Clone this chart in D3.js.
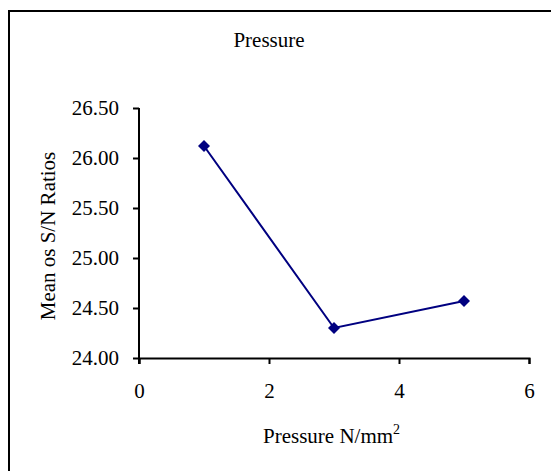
<!DOCTYPE html>
<html>
<head>
<meta charset="utf-8">
<script src="https://cdn.jsdelivr.net/npm/d3@7"></script>
<style>
  body { margin: 0; background: #fff; }
  svg text { font-family: "Times New Roman", "Liberation Serif", serif; font-size: 21px; fill: #000; }
</style>
</head>
<body>
<div id="chart"></div>
<script>
var pressure = [1, 3, 5];
var snMeans = [26.12, 24.30, 24.57];
var xTicks = [0, 2, 4, 6];
var yTicks = [24.0, 24.5, 25.0, 25.5, 26.0, 26.5];

var width = 551, height = 471;
var margin = { top: 108, left: 139, right: 22, bottom: 113 };
var serif = "'Times New Roman', 'Liberation Serif', serif";

var svg = d3.select("#chart").append("svg")
  .attr("width", width)
  .attr("height", height);

// outer frame (right / bottom edges fall outside the picture)
svg.append("rect")
  .attr("x", 9).attr("y", 11)
  .attr("width", 560).attr("height", 480)
  .attr("fill", "none")
  .attr("stroke", "#000")
  .attr("stroke-width", 2);

var x = d3.scaleLinear().domain([0, 6]).range([margin.left, width - margin.right]);
var y = d3.scaleLinear().domain([24, 26.5]).range([height - margin.bottom, margin.top]);

var xAxis = svg.append("g")
  .attr("transform", "translate(0," + y(24) + ")")
  .call(d3.axisBottom(x).tickValues(xTicks).tickSize(6).tickPadding(19).tickFormat(d3.format("d")));

var yAxis = svg.append("g")
  .attr("transform", "translate(" + x(0) + ",0)")
  .call(d3.axisLeft(y).tickValues(yTicks).tickSize(6).tickPadding(14).tickFormat(d3.format(".2f")));

[xAxis, yAxis].forEach(function(a) {
  a.attr("font-family", serif).attr("font-size", 21);
  a.select(".domain").attr("stroke", "#000").attr("stroke-width", 2);
  a.selectAll(".tick line").attr("stroke", "#000").attr("stroke-width", 2);
});
yAxis.select(".domain").attr("d", "M0," + y(26.5) + "V" + (y(24) + 6));

var pts = pressure.map(function(p, i) { return [p, snMeans[i]]; });

svg.append("path")
  .datum(pts)
  .attr("fill", "none")
  .attr("stroke", "#000080")
  .attr("stroke-width", 2)
  .attr("d", d3.line().x(function(d) { return x(d[0]); }).y(function(d) { return y(d[1]); }));

svg.selectAll(".pt")
  .data(pts)
  .enter().append("path")
  .attr("class", "pt")
  .attr("transform", function(d) { return "translate(" + x(d[0]) + "," + y(d[1]) + ")"; })
  .attr("d", "M0,-6L6,0L0,6L-6,0Z")
  .attr("fill", "#000080");

svg.append("text")
  .attr("x", 269).attr("y", 47)
  .attr("text-anchor", "middle")
  .text("Pressure");

var xl = svg.append("text")
  .attr("x", 263).attr("y", 443);
xl.append("tspan").text("Pressure N/mm");
xl.append("tspan").attr("dy", -9).style("font-size", "14px").text("2");

svg.append("text")
  .attr("transform", "translate(55,236) rotate(-90)")
  .attr("text-anchor", "middle")
  .text("Mean os S/N Ratios");
</script>
</body>
</html>
